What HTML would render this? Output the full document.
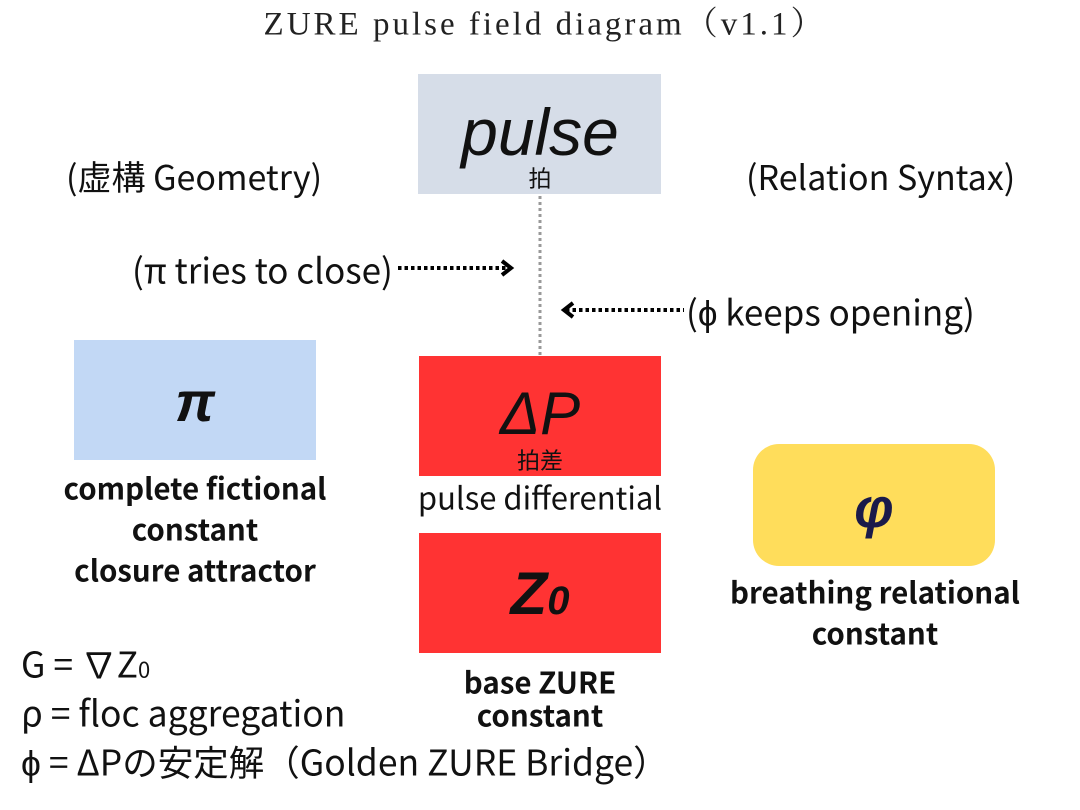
<!DOCTYPE html>
<html><head><meta charset="utf-8"><style>
body{margin:0;width:1080px;height:810px;background:#fff;position:relative;overflow:hidden;font-family:"Noto Sans CJK JP","Liberation Sans",sans-serif;color:#111}
.a{position:absolute;white-space:nowrap;line-height:1}
.c{transform:translate(-50%,-50%)}
.l{transform:translate(0,-50%)}
.box{position:absolute}
.b{font-weight:bold}
.ar{font-family:"Liberation Sans",sans-serif}
</style></head><body>
<div class="a c" style="left:545px;top:25px;font-family:'Liberation Serif','Noto Serif CJK SC',serif;font-size:33px;letter-spacing:3px;color:#222">ZURE pulse field diagram（v1.1）</div>

<div class="box" style="left:418px;top:74px;width:243px;height:120px;background:#d6dde8"></div>
<div class="a c ar" style="left:540px;top:132px;font-size:66px;font-style:italic">pulse</div>
<div class="a c" style="left:540px;top:177px;font-size:23px">拍</div>

<svg class="box" style="left:0;top:0" width="1080" height="810">
<line x1="540" y1="196" x2="540" y2="355" stroke="#999" stroke-width="3" stroke-dasharray="3,3"/>
<line x1="398" y1="268" x2="510" y2="268" stroke="#000" stroke-width="4" stroke-dasharray="3.5,3"/>
<polyline points="502,261 511,268 502,275" fill="none" stroke="#000" stroke-width="4"/>
<line x1="566" y1="310" x2="684" y2="310" stroke="#000" stroke-width="4" stroke-dasharray="3.5,3"/>
<polyline points="573,303 564,310 573,317" fill="none" stroke="#000" stroke-width="4"/>
</svg>

<div class="a l" style="left:66px;top:176px;font-size:34px">(虚構 Geometry)</div>
<div class="a l" style="left:746px;top:176px;font-size:34px">(Relation Syntax)</div>
<div class="a l" style="left:132px;top:269px;font-size:35px">(π tries to close)</div>
<div class="a l" style="left:686px;top:311px;font-size:35px">(ϕ keeps opening)</div>

<div class="box" style="left:74px;top:340px;width:242px;height:120px;background:#c2d8f5"></div>
<div class="a c ar b" style="left:195px;top:402px;font-size:56px;font-style:italic">π</div>
<div class="a c b" style="left:195px;top:488px;font-size:29.5px">complete fictional</div>
<div class="a c b" style="left:195px;top:529px;font-size:29.5px">constant</div>
<div class="a c b" style="left:195px;top:570px;font-size:29.5px">closure attractor</div>

<div class="box" style="left:419px;top:356px;width:242px;height:120px;background:#ff3333"></div>
<div class="a c ar" style="left:540px;top:414px;font-size:60px;font-style:italic">ΔP</div>
<div class="a c" style="left:540px;top:459px;font-size:23px">拍差</div>
<div class="a c" style="left:540px;top:496px;font-size:31px">pulse differential</div>

<div class="box" style="left:419px;top:533px;width:242px;height:120px;background:#ff3333"></div>
<div class="a c ar b" style="left:540px;top:594px;font-size:60px;font-style:italic">Z<span style="font-size:40px">0</span></div>
<div class="a c b" style="left:540px;top:682px;font-size:29.5px">base ZURE</div>
<div class="a c b" style="left:540px;top:715px;font-size:29.5px">constant</div>

<div class="box" style="left:753px;top:444px;width:242px;height:122px;background:#ffdd5b;border-radius:26px"></div>
<div class="a c ar b" style="left:874px;top:508px;font-size:56px;font-style:italic;color:#1a1a4a">φ</div>
<div class="a c b" style="left:875px;top:592px;font-size:29.5px">breathing relational</div>
<div class="a c b" style="left:875px;top:633px;font-size:29.5px">constant</div>

<div class="a l" style="left:21px;top:663px;font-size:35.5px">G = ∇Z<span style="font-size:22px">0</span></div>
<div class="a l" style="left:21px;top:712px;font-size:35.5px">ρ = floc aggregation</div>
<div class="a l" style="left:21px;top:761px;font-size:35.5px">ϕ = ΔPの安定解（Golden ZURE Bridge）</div>
</body></html>
